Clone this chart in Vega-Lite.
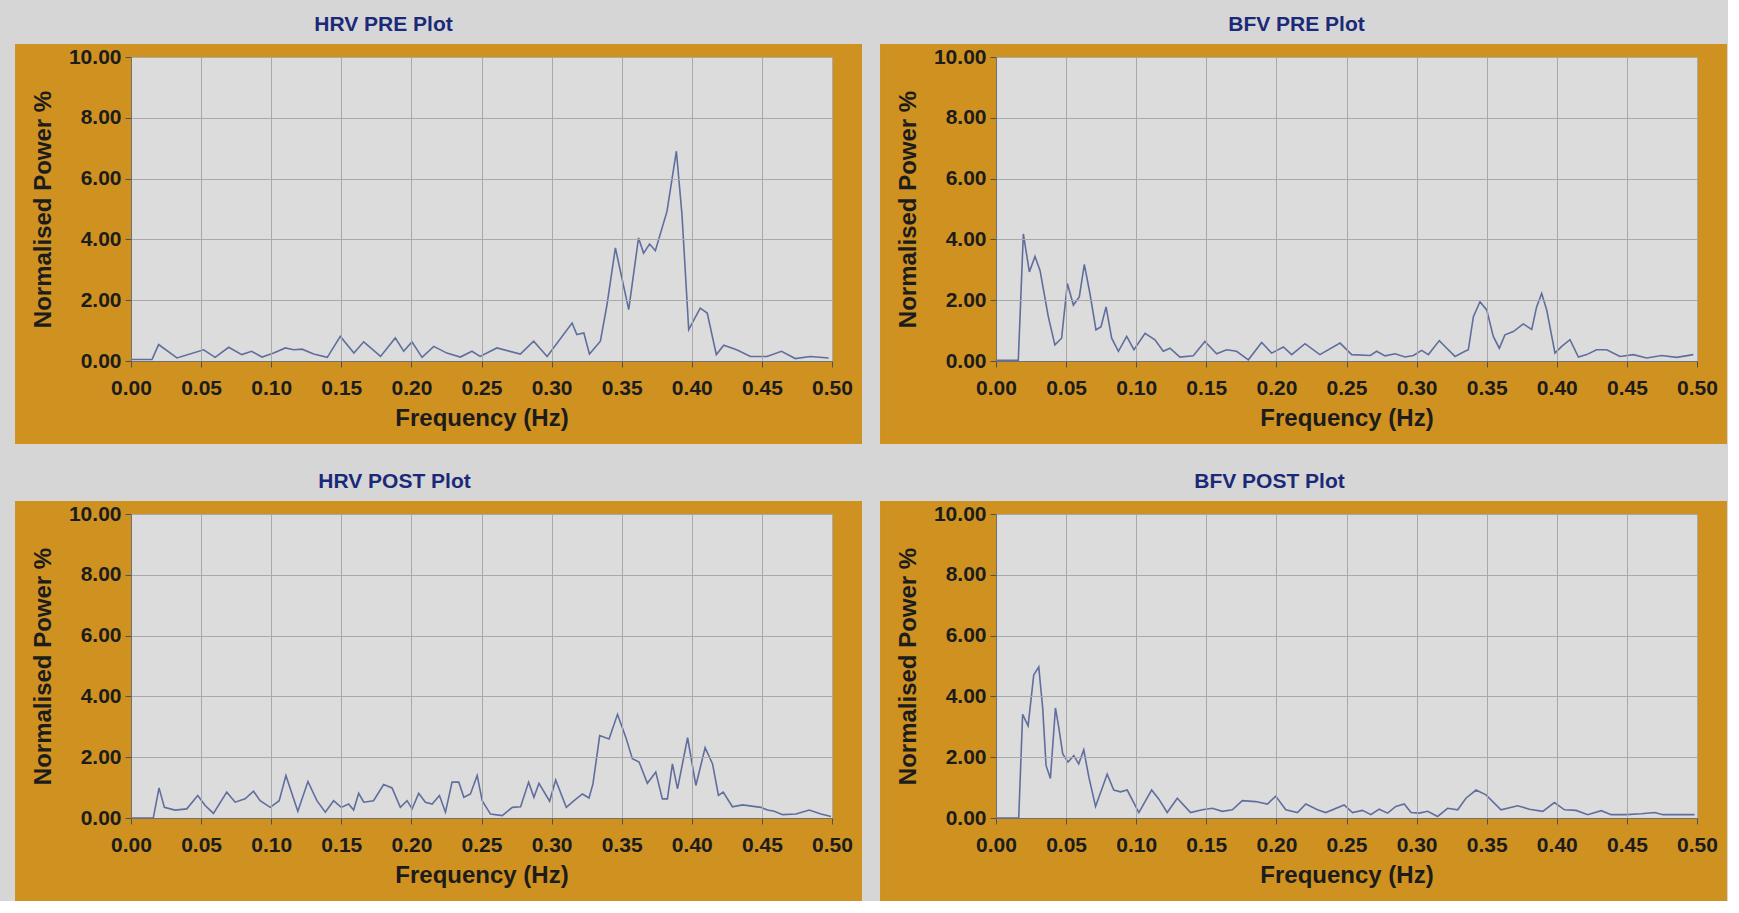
{
"$schema": "https://vega.github.io/schema/vega-lite/v6.json",
"background": "#d6d6d6",
"padding": {"left": 15, "top": 13, "right": 0, "bottom": 0},
"datasets": {
"hrvPre": [{"f":0,"p":0.05},{"f":0.015,"p":0.05},{"f":0.0197,"p":0.54},{"f":0.0328,"p":0.1},{"f":0.0518,"p":0.37},{"f":0.06,"p":0.12},{"f":0.0697,"p":0.45},{"f":0.079,"p":0.21},{"f":0.086,"p":0.32},{"f":0.0934,"p":0.13},{"f":0.1018,"p":0.26},{"f":0.1101,"p":0.43},{"f":0.116,"p":0.37},{"f":0.122,"p":0.39},{"f":0.1303,"p":0.23},{"f":0.14,"p":0.12},{"f":0.1493,"p":0.81},{"f":0.159,"p":0.26},{"f":0.166,"p":0.63},{"f":0.178,"p":0.15},{"f":0.1885,"p":0.76},{"f":0.1945,"p":0.32},{"f":0.2004,"p":0.63},{"f":0.2076,"p":0.12},{"f":0.216,"p":0.48},{"f":0.2253,"p":0.26},{"f":0.2349,"p":0.13},{"f":0.2432,"p":0.32},{"f":0.249,"p":0.15},{"f":0.261,"p":0.43},{"f":0.2777,"p":0.23},{"f":0.2872,"p":0.65},{"f":0.2968,"p":0.15},{"f":0.3146,"p":1.25},{"f":0.318,"p":0.87},{"f":0.323,"p":0.92},{"f":0.327,"p":0.23},{"f":0.3348,"p":0.65},{"f":0.3395,"p":1.85},{"f":0.3455,"p":3.72},{"f":0.355,"p":1.69},{"f":0.362,"p":4.05},{"f":0.3656,"p":3.55},{"f":0.3699,"p":3.85},{"f":0.374,"p":3.63},{"f":0.3823,"p":4.92},{"f":0.389,"p":6.9},{"f":0.393,"p":4.81},{"f":0.3978,"p":1.03},{"f":0.406,"p":1.74},{"f":0.411,"p":1.58},{"f":0.4175,"p":0.21},{"f":0.4228,"p":0.52},{"f":0.432,"p":0.37},{"f":0.4418,"p":0.15},{"f":0.4536,"p":0.15},{"f":0.464,"p":0.32},{"f":0.4738,"p":0.08},{"f":0.4845,"p":0.15},{"f":0.4976,"p":0.1}],
"bfvPre": [{"f":0,"p":0.02},{"f":0.0159,"p":0.02},{"f":0.0195,"p":4.18},{"f":0.0238,"p":2.93},{"f":0.0278,"p":3.44},{"f":0.0314,"p":2.98},{"f":0.0373,"p":1.46},{"f":0.042,"p":0.53},{"f":0.0468,"p":0.75},{"f":0.0509,"p":2.55},{"f":0.0552,"p":1.84},{"f":0.0594,"p":2.11},{"f":0.063,"p":3.18},{"f":0.067,"p":2.22},{"f":0.0713,"p":1.02},{"f":0.0749,"p":1.13},{"f":0.0785,"p":1.78},{"f":0.0825,"p":0.75},{"f":0.0873,"p":0.32},{"f":0.0932,"p":0.81},{"f":0.0984,"p":0.37},{"f":0.1063,"p":0.91},{"f":0.1134,"p":0.7},{"f":0.1193,"p":0.32},{"f":0.1241,"p":0.42},{"f":0.1312,"p":0.13},{"f":0.1407,"p":0.17},{"f":0.149,"p":0.64},{"f":0.1574,"p":0.24},{"f":0.1645,"p":0.37},{"f":0.1716,"p":0.32},{"f":0.18,"p":0.04},{"f":0.1895,"p":0.61},{"f":0.1966,"p":0.26},{"f":0.205,"p":0.46},{"f":0.2109,"p":0.21},{"f":0.2204,"p":0.57},{"f":0.231,"p":0.21},{"f":0.2454,"p":0.59},{"f":0.2537,"p":0.21},{"f":0.267,"p":0.18},{"f":0.2715,"p":0.32},{"f":0.2775,"p":0.17},{"f":0.2846,"p":0.24},{"f":0.2918,"p":0.13},{"f":0.2977,"p":0.18},{"f":0.3036,"p":0.35},{"f":0.3084,"p":0.21},{"f":0.3162,"p":0.67},{"f":0.3215,"p":0.42},{"f":0.3274,"p":0.15},{"f":0.3345,"p":0.32},{"f":0.3369,"p":0.37},{"f":0.3405,"p":1.46},{"f":0.3452,"p":1.95},{"f":0.35,"p":1.68},{"f":0.3547,"p":0.81},{"f":0.359,"p":0.42},{"f":0.363,"p":0.86},{"f":0.369,"p":0.97},{"f":0.3761,"p":1.22},{"f":0.3821,"p":1.04},{"f":0.3856,"p":1.78},{"f":0.3892,"p":2.22},{"f":0.3928,"p":1.68},{"f":0.3987,"p":0.26},{"f":0.4035,"p":0.48},{"f":0.4094,"p":0.7},{"f":0.4154,"p":0.13},{"f":0.4213,"p":0.21},{"f":0.4284,"p":0.37},{"f":0.4356,"p":0.37},{"f":0.4451,"p":0.15},{"f":0.4546,"p":0.21},{"f":0.4641,"p":0.1},{"f":0.4748,"p":0.18},{"f":0.4855,"p":0.12},{"f":0.4974,"p":0.21}],
"hrvPost": [{"f":0,"p":0},{"f":0.0159,"p":0},{"f":0.02,"p":0.99},{"f":0.0238,"p":0.35},{"f":0.0314,"p":0.26},{"f":0.0398,"p":0.3},{"f":0.0476,"p":0.74},{"f":0.0529,"p":0.41},{"f":0.0588,"p":0.15},{"f":0.0683,"p":0.85},{"f":0.0743,"p":0.52},{"f":0.0814,"p":0.63},{"f":0.0874,"p":0.88},{"f":0.0921,"p":0.57},{"f":0.0993,"p":0.35},{"f":0.1057,"p":0.57},{"f":0.1105,"p":1.4},{"f":0.116,"p":0.63},{"f":0.119,"p":0.22},{"f":0.1262,"p":1.2},{"f":0.1326,"p":0.57},{"f":0.1386,"p":0.19},{"f":0.1445,"p":0.57},{"f":0.15,"p":0.35},{"f":0.1552,"p":0.46},{"f":0.1588,"p":0.26},{"f":0.1624,"p":0.81},{"f":0.166,"p":0.52},{"f":0.173,"p":0.57},{"f":0.1802,"p":1.1},{"f":0.1862,"p":0.99},{"f":0.1921,"p":0.35},{"f":0.1969,"p":0.57},{"f":0.2005,"p":0.3},{"f":0.2052,"p":0.81},{"f":0.21,"p":0.52},{"f":0.2148,"p":0.46},{"f":0.22,"p":0.74},{"f":0.2243,"p":0.19},{"f":0.229,"p":1.18},{"f":0.2338,"p":1.18},{"f":0.2374,"p":0.68},{"f":0.2421,"p":0.79},{"f":0.2469,"p":1.4},{"f":0.2505,"p":0.57},{"f":0.2564,"p":0.13},{"f":0.2648,"p":0.08},{"f":0.272,"p":0.35},{"f":0.2779,"p":0.37},{"f":0.2836,"p":1.18},{"f":0.2874,"p":0.68},{"f":0.291,"p":1.14},{"f":0.2986,"p":0.55},{"f":0.3029,"p":1.25},{"f":0.3105,"p":0.35},{"f":0.316,"p":0.57},{"f":0.322,"p":0.79},{"f":0.3267,"p":0.66},{"f":0.3295,"p":1.12},{"f":0.3343,"p":2.71},{"f":0.341,"p":2.6},{"f":0.347,"p":3.41},{"f":0.3529,"p":2.66},{"f":0.3576,"p":1.95},{"f":0.3624,"p":1.84},{"f":0.3683,"p":1.14},{"f":0.3743,"p":1.51},{"f":0.379,"p":0.63},{"f":0.3826,"p":0.63},{"f":0.3862,"p":1.78},{"f":0.3898,"p":0.96},{"f":0.397,"p":2.64},{"f":0.4029,"p":1.07},{"f":0.4095,"p":2.31},{"f":0.4148,"p":1.78},{"f":0.419,"p":0.74},{"f":0.4224,"p":0.85},{"f":0.429,"p":0.37},{"f":0.4362,"p":0.43},{"f":0.4493,"p":0.35},{"f":0.454,"p":0.26},{"f":0.4588,"p":0.22},{"f":0.4648,"p":0.11},{"f":0.4743,"p":0.13},{"f":0.4838,"p":0.26},{"f":0.4921,"p":0.13},{"f":0.4993,"p":0.05}],
"bfvPost": [{"f":0,"p":0},{"f":0.0162,"p":0},{"f":0.019,"p":3.41},{"f":0.0229,"p":3.03},{"f":0.0269,"p":4.7},{"f":0.0305,"p":4.97},{"f":0.0333,"p":3.62},{"f":0.0357,"p":1.73},{"f":0.0388,"p":1.3},{"f":0.0424,"p":3.62},{"f":0.0448,"p":2.97},{"f":0.0476,"p":2.11},{"f":0.0514,"p":1.84},{"f":0.0555,"p":2.05},{"f":0.059,"p":1.78},{"f":0.0626,"p":2.24},{"f":0.0662,"p":1.35},{"f":0.071,"p":0.38},{"f":0.0793,"p":1.44},{"f":0.084,"p":0.92},{"f":0.0888,"p":0.86},{"f":0.0936,"p":0.92},{"f":0.1019,"p":0.18},{"f":0.111,"p":0.92},{"f":0.1162,"p":0.62},{"f":0.1221,"p":0.18},{"f":0.1293,"p":0.65},{"f":0.1388,"p":0.18},{"f":0.1471,"p":0.27},{"f":0.1543,"p":0.32},{"f":0.1614,"p":0.22},{"f":0.1686,"p":0.27},{"f":0.1757,"p":0.57},{"f":0.1852,"p":0.54},{"f":0.1936,"p":0.46},{"f":0.1995,"p":0.72},{"f":0.2067,"p":0.27},{"f":0.215,"p":0.18},{"f":0.221,"p":0.46},{"f":0.2293,"p":0.27},{"f":0.2352,"p":0.18},{"f":0.2483,"p":0.43},{"f":0.2543,"p":0.18},{"f":0.2614,"p":0.25},{"f":0.2674,"p":0.11},{"f":0.2733,"p":0.29},{"f":0.2793,"p":0.16},{"f":0.2852,"p":0.38},{"f":0.2912,"p":0.46},{"f":0.296,"p":0.18},{"f":0.3019,"p":0.16},{"f":0.3079,"p":0.22},{"f":0.315,"p":0.05},{"f":0.3221,"p":0.32},{"f":0.3293,"p":0.27},{"f":0.3352,"p":0.65},{"f":0.3424,"p":0.92},{"f":0.3495,"p":0.76},{"f":0.3602,"p":0.27},{"f":0.3721,"p":0.4},{"f":0.3805,"p":0.29},{"f":0.39,"p":0.22},{"f":0.3983,"p":0.51},{"f":0.4055,"p":0.27},{"f":0.4138,"p":0.25},{"f":0.4221,"p":0.11},{"f":0.4317,"p":0.24},{"f":0.4388,"p":0.11},{"f":0.4495,"p":0.11},{"f":0.4602,"p":0.14},{"f":0.4698,"p":0.18},{"f":0.4757,"p":0.11},{"f":0.4983,"p":0.11}]
},
"columns": 2,
"spacing": {"row": 153, "column": 164},
"bounds": "flush",
"concat": [
{"title": {"text": "HRV PRE Plot", "dx": -98}, "width": 701, "height": 304,
 "layer": [
  {"data": {"values": [{}]}, "mark": {"type": "rect", "color": "#cf911f"}, "encoding": {"x": {"datum": -0.0827, "type": "quantitative", "title": "Frequency (Hz)", "axis": {"zindex": 1, "values": [0, 0.05, 0.1, 0.15, 0.2, 0.25, 0.3, 0.35, 0.4, 0.45, 0.5]}, "scale": {"domain": [0, 0.5], "nice": false, "zero": false}}, "x2": {"datum": 0.5214}, "y": {"datum": -2.73, "type": "quantitative", "title": "Normalised Power %", "axis": {"zindex": 1, "values": [0, 2, 4, 6, 8, 10]}, "scale": {"domain": [0, 10], "nice": false}}, "y2": {"datum": 10.43}}},
  {"data": {"values": [{}]}, "mark": {"type": "rect", "color": "#dcdcdc"}, "encoding": {"x": {"datum": 0, "type": "quantitative", "title": "Frequency (Hz)", "axis": {"zindex": 1, "values": [0, 0.05, 0.1, 0.15, 0.2, 0.25, 0.3, 0.35, 0.4, 0.45, 0.5]}, "scale": {"domain": [0, 0.5], "nice": false, "zero": false}}, "x2": {"datum": 0.5}, "y": {"datum": 0, "type": "quantitative", "title": "Normalised Power %", "axis": {"zindex": 1, "values": [0, 2, 4, 6, 8, 10]}, "scale": {"domain": [0, 10], "nice": false}}, "y2": {"datum": 10}}},
  {"data": {"name": "hrvPre"}, "mark": {"type": "line", "color": "#5f6e9e", "strokeWidth": 1.6}, "encoding": {"x": {"field": "f", "type": "quantitative", "title": "Frequency (Hz)", "axis": {"zindex": 1, "values": [0, 0.05, 0.1, 0.15, 0.2, 0.25, 0.3, 0.35, 0.4, 0.45, 0.5]}, "scale": {"domain": [0, 0.5], "nice": false, "zero": false}}, "y": {"field": "p", "type": "quantitative", "title": "Normalised Power %", "axis": {"zindex": 1, "values": [0, 2, 4, 6, 8, 10]}, "scale": {"domain": [0, 10], "nice": false}}}}
 ]},
{"title": {"text": "BFV PRE Plot", "dx": -50}, "width": 701, "height": 304,
 "layer": [
  {"data": {"values": [{}]}, "mark": {"type": "rect", "color": "#cf911f"}, "encoding": {"x": {"datum": -0.0827, "type": "quantitative", "title": "Frequency (Hz)", "axis": {"zindex": 1, "values": [0, 0.05, 0.1, 0.15, 0.2, 0.25, 0.3, 0.35, 0.4, 0.45, 0.5]}, "scale": {"domain": [0, 0.5], "nice": false, "zero": false}}, "x2": {"datum": 0.5214}, "y": {"datum": -2.73, "type": "quantitative", "title": "Normalised Power %", "axis": {"zindex": 1, "values": [0, 2, 4, 6, 8, 10]}, "scale": {"domain": [0, 10], "nice": false}}, "y2": {"datum": 10.43}}},
  {"data": {"values": [{}]}, "mark": {"type": "rect", "color": "#dcdcdc"}, "encoding": {"x": {"datum": 0, "type": "quantitative", "title": "Frequency (Hz)", "axis": {"zindex": 1, "values": [0, 0.05, 0.1, 0.15, 0.2, 0.25, 0.3, 0.35, 0.4, 0.45, 0.5]}, "scale": {"domain": [0, 0.5], "nice": false, "zero": false}}, "x2": {"datum": 0.5}, "y": {"datum": 0, "type": "quantitative", "title": "Normalised Power %", "axis": {"zindex": 1, "values": [0, 2, 4, 6, 8, 10]}, "scale": {"domain": [0, 10], "nice": false}}, "y2": {"datum": 10}}},
  {"data": {"name": "bfvPre"}, "mark": {"type": "line", "color": "#5f6e9e", "strokeWidth": 1.6}, "encoding": {"x": {"field": "f", "type": "quantitative", "title": "Frequency (Hz)", "axis": {"zindex": 1, "values": [0, 0.05, 0.1, 0.15, 0.2, 0.25, 0.3, 0.35, 0.4, 0.45, 0.5]}, "scale": {"domain": [0, 0.5], "nice": false, "zero": false}}, "y": {"field": "p", "type": "quantitative", "title": "Normalised Power %", "axis": {"zindex": 1, "values": [0, 2, 4, 6, 8, 10]}, "scale": {"domain": [0, 10], "nice": false}}}}
 ]},
{"title": {"text": "HRV POST Plot", "dx": -87}, "width": 701, "height": 304,
 "layer": [
  {"data": {"values": [{}]}, "mark": {"type": "rect", "color": "#cf911f"}, "encoding": {"x": {"datum": -0.0827, "type": "quantitative", "title": "Frequency (Hz)", "axis": {"zindex": 1, "values": [0, 0.05, 0.1, 0.15, 0.2, 0.25, 0.3, 0.35, 0.4, 0.45, 0.5]}, "scale": {"domain": [0, 0.5], "nice": false, "zero": false}}, "x2": {"datum": 0.5214}, "y": {"datum": -2.73, "type": "quantitative", "title": "Normalised Power %", "axis": {"zindex": 1, "values": [0, 2, 4, 6, 8, 10]}, "scale": {"domain": [0, 10], "nice": false}}, "y2": {"datum": 10.43}}},
  {"data": {"values": [{}]}, "mark": {"type": "rect", "color": "#dcdcdc"}, "encoding": {"x": {"datum": 0, "type": "quantitative", "title": "Frequency (Hz)", "axis": {"zindex": 1, "values": [0, 0.05, 0.1, 0.15, 0.2, 0.25, 0.3, 0.35, 0.4, 0.45, 0.5]}, "scale": {"domain": [0, 0.5], "nice": false, "zero": false}}, "x2": {"datum": 0.5}, "y": {"datum": 0, "type": "quantitative", "title": "Normalised Power %", "axis": {"zindex": 1, "values": [0, 2, 4, 6, 8, 10]}, "scale": {"domain": [0, 10], "nice": false}}, "y2": {"datum": 10}}},
  {"data": {"name": "hrvPost"}, "mark": {"type": "line", "color": "#5f6e9e", "strokeWidth": 1.6}, "encoding": {"x": {"field": "f", "type": "quantitative", "title": "Frequency (Hz)", "axis": {"zindex": 1, "values": [0, 0.05, 0.1, 0.15, 0.2, 0.25, 0.3, 0.35, 0.4, 0.45, 0.5]}, "scale": {"domain": [0, 0.5], "nice": false, "zero": false}}, "y": {"field": "p", "type": "quantitative", "title": "Normalised Power %", "axis": {"zindex": 1, "values": [0, 2, 4, 6, 8, 10]}, "scale": {"domain": [0, 10], "nice": false}}}}
 ]},
{"title": {"text": "BFV POST Plot", "dx": -77}, "width": 701, "height": 304,
 "layer": [
  {"data": {"values": [{}]}, "mark": {"type": "rect", "color": "#cf911f"}, "encoding": {"x": {"datum": -0.0827, "type": "quantitative", "title": "Frequency (Hz)", "axis": {"zindex": 1, "values": [0, 0.05, 0.1, 0.15, 0.2, 0.25, 0.3, 0.35, 0.4, 0.45, 0.5]}, "scale": {"domain": [0, 0.5], "nice": false, "zero": false}}, "x2": {"datum": 0.5214}, "y": {"datum": -2.73, "type": "quantitative", "title": "Normalised Power %", "axis": {"zindex": 1, "values": [0, 2, 4, 6, 8, 10]}, "scale": {"domain": [0, 10], "nice": false}}, "y2": {"datum": 10.43}}},
  {"data": {"values": [{}]}, "mark": {"type": "rect", "color": "#dcdcdc"}, "encoding": {"x": {"datum": 0, "type": "quantitative", "title": "Frequency (Hz)", "axis": {"zindex": 1, "values": [0, 0.05, 0.1, 0.15, 0.2, 0.25, 0.3, 0.35, 0.4, 0.45, 0.5]}, "scale": {"domain": [0, 0.5], "nice": false, "zero": false}}, "x2": {"datum": 0.5}, "y": {"datum": 0, "type": "quantitative", "title": "Normalised Power %", "axis": {"zindex": 1, "values": [0, 2, 4, 6, 8, 10]}, "scale": {"domain": [0, 10], "nice": false}}, "y2": {"datum": 10}}},
  {"data": {"name": "bfvPost"}, "mark": {"type": "line", "color": "#5f6e9e", "strokeWidth": 1.6}, "encoding": {"x": {"field": "f", "type": "quantitative", "title": "Frequency (Hz)", "axis": {"zindex": 1, "values": [0, 0.05, 0.1, 0.15, 0.2, 0.25, 0.3, 0.35, 0.4, 0.45, 0.5]}, "scale": {"domain": [0, 0.5], "nice": false, "zero": false}}, "y": {"field": "p", "type": "quantitative", "title": "Normalised Power %", "axis": {"zindex": 1, "values": [0, 2, 4, 6, 8, 10]}, "scale": {"domain": [0, 10], "nice": false}}}}
 ]}
],
"config": {
 "view": {"stroke": null},
 "title": {"font": "Liberation Sans", "fontSize": 21, "fontWeight": "bold", "color": "#1b2a78", "anchor": "middle", "offset": 9},
 "axis": {"grid": true, "gridColor": "#a9a9a9", "gridWidth": 1, "domain": true, "domainColor": "#707070", "ticks": true, "tickColor": "#505050", "tickSize": 6, "labelFont": "Liberation Sans", "labelFontWeight": "bold", "labelFontSize": 21, "labelColor": "#1c1c1c", "format": ".2f", "titleFont": "Liberation Sans", "titleFontWeight": "bold", "titleFontSize": 24, "titleColor": "#1c1c1c", "labelFlush": false, "labelOverlap": false},
 "axisX": {"labelPadding": 10, "titlePadding": 8},
 "axisY": {"labelPadding": 4, "titlePadding": 13}
}
}
